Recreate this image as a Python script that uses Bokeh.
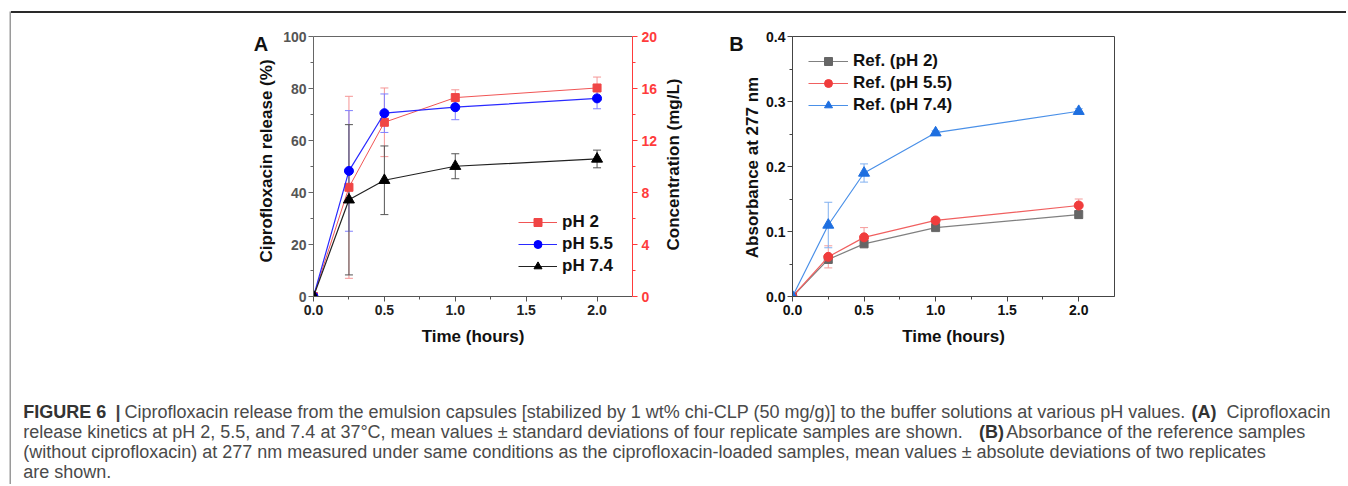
import math
from bokeh.plotting import figure
from bokeh.models import (ColumnDataSource, Range1d, LinearAxis, Whisker, TeeHead, Legend,
                          LegendItem, FixedTicker, PrintfTickFormatter, Spacer, Div)
from bokeh.layouts import row, column
from bokeh.core.properties import value
from bokeh.embed import file_html
from bokeh.resources import INLINE

# ---------------- data ----------------
time_h = [0.0, 0.25, 0.5, 1.0, 2.0]

# Panel A: ciprofloxacin release (%), mean +- SD
ph2_release = [0.0, 42.0, 67.0, 76.5, 80.2]
ph2_err = [0.0, 35.0, 13.2, 3.0, 4.2]
ph55_release = [0.0, 48.3, 70.5, 72.8, 76.2]
ph55_err = [0.0, 23.2, 7.4, 4.8, 4.0]
ph74_release = [0.0, 37.2, 44.7, 50.1, 52.9]
ph74_err = [0.0, 28.9, 13.2, 4.8, 3.4]

# Panel B: absorbance at 277 nm of reference samples
ref_ph2 = [0.0, 0.057, 0.081, 0.106, 0.126]
ref_ph2_err = [0.0, 0.005, 0.005, 0.004, 0.006]
ref_ph55 = [0.0, 0.061, 0.091, 0.117, 0.140]
ref_ph55_err = [0.0, 0.017, 0.015, 0.003, 0.010]
ref_ph74 = [0.0, 0.110, 0.190, 0.252, 0.285]
ref_ph74_err = [0.0, 0.035, 0.014, 0.003, 0.004]

legend_a = ["pH 2", "pH 5.5", "pH 7.4"]
legend_b = ["Ref. (pH 2)", "Ref. (pH 5.5)", "Ref. (pH 7.4)"]

x_label = "Time (hours)"
a_y_label = "Ciprofloxacin release (%)"
a_r_label = "Concentration (mg/L)"
b_y_label = "Absorbance at 277 nm"
panel_letters = ["A", "B"]

x_ticks = [0.0, 0.5, 1.0, 1.5, 2.0]
x_minor = [0.25, 0.75, 1.25, 1.75]
a_y_ticks = [0, 20, 40, 60, 80, 100]
a_y_minor = [10, 30, 50, 70, 90]
a_r_ticks = [0, 4, 8, 12, 16, 20]
a_r_minor = [2, 6, 10, 14, 18]
b_y_ticks = [0.0, 0.1, 0.2, 0.3, 0.4]
b_y_minor = [0.05, 0.15, 0.25, 0.35]

caption_bold = ["FIGURE 6", "|", "(A)", "(B)"]
caption_line1 = "Ciprofloxacin release from the emulsion capsules [stabilized by 1 wt% chi-CLP (50 mg/g)] to the buffer solutions at various pH values."
caption_line1b = "Ciprofloxacin"
caption_line2 = "release kinetics at pH 2, 5.5, and 7.4 at 37\u00b0C, mean values \u00b1 standard deviations of four replicate samples are shown."
caption_line2b = "Absorbance of the reference samples"
caption_line3 = "(without ciprofloxacin) at 277 nm measured under same conditions as the ciprofloxacin-loaded samples, mean values \u00b1 absolute deviations of two replicates"
caption_line4 = "are shown."

FONT = "Liberation Sans"
FONT_V = value("Liberation Sans")


def style_axis(ax, color, text_color, tick_standoff):
    ax.axis_line_color = color
    ax.major_tick_line_color = color
    ax.minor_tick_line_color = color
    ax.major_tick_out = 5
    ax.major_tick_in = 0
    ax.minor_tick_out = 3
    ax.minor_tick_in = 0
    ax.major_label_text_font = FONT
    ax.major_label_text_font_size = "14px"
    ax.major_label_text_font_style = "bold"
    ax.major_label_text_color = text_color
    ax.major_label_standoff = tick_standoff
    ax.axis_label_text_font = FONT
    ax.axis_label_text_font_size = "17px"
    ax.axis_label_text_font_style = "bold"
    ax.axis_label_text_color = "#111111"
    ax.axis_label_standoff = 9


def add_series(p, x, y, err, mcolor, lcolor, ecolor, marker, size, lw):
    src = ColumnDataSource(dict(x=x, y=y,
                                upper=[a + b for a, b in zip(y, err)],
                                lower=[a - b for a, b in zip(y, err)]))
    w = Whisker(source=src, base="x", upper="upper", lower="lower",
                line_color=ecolor, line_width=1,
                upper_head=TeeHead(size=8, line_color=ecolor, line_width=1),
                lower_head=TeeHead(size=8, line_color=ecolor, line_width=1))
    p.add_layout(w)
    ln = p.line("x", "y", source=src, line_color=lcolor, line_width=lw)
    sc = p.scatter("x", "y", source=src, marker=marker, size=size,
                   fill_color=mcolor, line_color=mcolor)
    return ln, sc


def make_legend(items, loc, glyph_w):
    return Legend(items=items, location=loc, glyph_width=glyph_w, glyph_height=20,
                  label_height=20, label_standoff=5, spacing=2, padding=0, margin=0,
                  border_line_color=None, background_fill_alpha=0,
                  label_text_font=FONT, label_text_font_size="17px",
                  label_text_font_style="bold", label_text_color="#111111")


def blank(w, h, color="white", top=0, bottom=0):
    f = figure(width=w, height=h, x_range=Range1d(0, w), y_range=Range1d(h - bottom, top),
               toolbar_location=None, output_backend="svg", min_border=0,
               min_border_top=top, min_border_bottom=bottom,
               x_axis_type=None, y_axis_type=None, outline_line_color=None,
               background_fill_color=color, border_fill_color=color)
    f.title.visible = False
    f.xgrid.visible = False
    f.ygrid.visible = False
    return f


PH = 347   # height of the panel row
BT = 23    # top border of the panels
BB = 64    # bottom border of the panels

# ---------------- Panel A ----------------
pa = figure(width=381, height=PH, x_range=Range1d(0, 2.25), y_range=Range1d(0, 100),
            toolbar_location=None, output_backend="svg",
            min_border_left=34, min_border_right=26, min_border_top=BT, min_border_bottom=BB,
            outline_line_color=None, background_fill_color="white", border_fill_color="white")
pa.title.visible = False
pa.xgrid.visible = False
pa.ygrid.visible = False
pa.xaxis.axis_label = x_label
pa.xaxis.ticker = FixedTicker(ticks=x_ticks, minor_ticks=x_minor)
pa.yaxis.ticker = FixedTicker(ticks=a_y_ticks, minor_ticks=a_y_minor)
pa.xaxis.formatter = PrintfTickFormatter(format="%.1f")
style_axis(pa.xaxis[0], "#555555", "#222222", 3)
style_axis(pa.yaxis[0], "#666666", "#555555", 2)

top_a = LinearAxis(ticker=FixedTicker(ticks=[]), axis_line_color="#666666",
                   major_tick_line_color=None, minor_tick_line_color=None,
                   major_label_text_font_size="0px")
pa.add_layout(top_a, "above")

pa.extra_y_ranges = {"conc": Range1d(0, 20)}
ax_r = LinearAxis(y_range_name="conc", ticker=FixedTicker(ticks=a_r_ticks, minor_ticks=a_r_minor))
style_axis(ax_r, "#ff3b3b", "#ff3b3b", 4)
pa.add_layout(ax_r, "right")

l1, s1 = add_series(pa, time_h, ph2_release, ph2_err, "#f04545", "#f05555", "#f59595", "square", 8, 1)
l2, s2 = add_series(pa, time_h, ph55_release, ph55_err, "#0000ff", "#2a2aff", "#8080ff", "circle", 9, 1.2)
l3, s3 = add_series(pa, time_h, ph74_release, ph74_err, "#000000", "#222222", "#555555", "triangle", 11, 1.2)

pa.add_layout(make_legend([LegendItem(label=legend_a[0], renderers=[l1, s1]),
                           LegendItem(label=legend_a[1], renderers=[l2, s2]),
                           LegendItem(label=legend_a[2], renderers=[l3, s3])], (205, 20), 39))

# ---------------- Panel B ----------------
pb = figure(width=585, height=PH, x_range=Range1d(0, 2.25), y_range=Range1d(0, 0.4),
            toolbar_location=None, output_backend="svg",
            min_border_left=31, min_border_right=232, min_border_top=BT, min_border_bottom=BB,
            outline_line_color="#444444", background_fill_color="white", border_fill_color="white")
pb.title.visible = False
pb.xgrid.visible = False
pb.ygrid.visible = False
pb.xaxis.axis_label = x_label
pb.xaxis.ticker = FixedTicker(ticks=x_ticks, minor_ticks=x_minor)
pb.yaxis.ticker = FixedTicker(ticks=b_y_ticks, minor_ticks=b_y_minor)
pb.xaxis.formatter = PrintfTickFormatter(format="%.1f")
pb.yaxis.formatter = PrintfTickFormatter(format="%.1f")
style_axis(pb.xaxis[0], "#444444", "#111111", 3)
style_axis(pb.yaxis[0], "#444444", "#111111", 2)

m1, t1 = add_series(pb, time_h, ref_ph2, ref_ph2_err, "#666666", "#808080", "#999999", "square", 8, 1.2)
m2, t2 = add_series(pb, time_h, ref_ph55, ref_ph55_err, "#f03c3c", "#f06060", "#f59a9a", "circle", 9, 1.2)
m3, t3 = add_series(pb, time_h, ref_ph74, ref_ph74_err, "#1e6fe0", "#4a90e8", "#80b0f0", "triangle", 11, 1.2)

pb.add_layout(make_legend([LegendItem(label=legend_b[0], renderers=[m1, t1]),
                           LegendItem(label=legend_b[1], renderers=[m2, t2]),
                           LegendItem(label=legend_b[2], renderers=[m3, t3])], (16, 181), 40))

# ---------------- side label strips (panel letters and y-axis titles) ----------------
fl = blank(268, PH, top=BT, bottom=BB)
fl.text(x=[249.5], y=[30.7], text=[panel_letters[0]], text_font=FONT_V, text_font_size="20px",
        text_font_style="bold", text_color="#111111", text_align="center", text_baseline="middle")
fl.text(x=[254.5], y=[147.5], text=[a_y_label], angle=math.pi / 2, text_font=FONT_V,
        text_font_size="17px", text_font_style="bold", text_color="#111111",
        text_align="center", text_baseline="middle")

fm = blank(101, PH, top=BT, bottom=BB)
fm.text(x=[13], y=[151], text=[a_r_label], angle=math.pi / 2, text_font=FONT_V,
        text_font_size="17px", text_font_style="bold", text_color="#111111",
        text_align="center", text_baseline="middle")
fm.text(x=[76], y=[30.5], text=[panel_letters[1]], text_font=FONT_V, text_font_size="20px",
        text_font_style="bold", text_color="#111111", text_align="center", text_baseline="middle")
fm.text(x=[92], y=[154], text=[b_y_label], angle=math.pi / 2, text_font=FONT_V,
        text_font_size="17px", text_font_style="bold", text_color="#111111",
        text_align="center", text_baseline="middle")

# ---------------- Caption ----------------
CW = 1335
CFS = "18px"
cap = blank(CW, 124)
cap.text(x=[11.7], y=[51.5], text=[caption_bold[0]], text_font=FONT_V, text_font_size=CFS,
         text_font_style="bold", text_color="#333333", text_baseline="middle")
cap.text(x=[104], y=[51.5], text=[caption_bold[1]], text_font=FONT_V, text_font_size=CFS,
         text_font_style="bold", text_color="#444444", text_baseline="middle")
cap.text(x=[1180, 967.6], y=[51.5, 71.5], text=caption_bold[2:], text_font=FONT_V,
         text_font_size=CFS, text_font_style="bold", text_color="#333333",
         text_baseline="middle")
norm_src = ColumnDataSource(dict(x=[113, 1215, 11.7, 994.7, 11.7, 11.7],
                                 y=[51.5, 51.5, 71.5, 71.5, 91.5, 111.5],
                                 t=[caption_line1, caption_line1b, caption_line2, caption_line2b,
                                    caption_line3, caption_line4]))
cap.text("x", "y", text="t", source=norm_src, text_font=FONT_V, text_font_size=CFS,
         text_color="#4a4a4a", text_baseline="middle", text_align="left")

# ---------------- decoration lines and assembly ----------------
vline = blank(2, 473, "#9a9a9a")
hline = Div(text="", width=CW, height=2, margin=0,
            styles={"background-color": "#2a2a2a"})

content = column(Spacer(width=CW, height=11), hline, row(fl, pa, fm, pb), cap)
leftcol = column(Spacer(width=2, height=11), vline)
root = row(Spacer(width=9, height=484), leftcol, content)

open("out.html", "w").write(file_html(root, INLINE))
